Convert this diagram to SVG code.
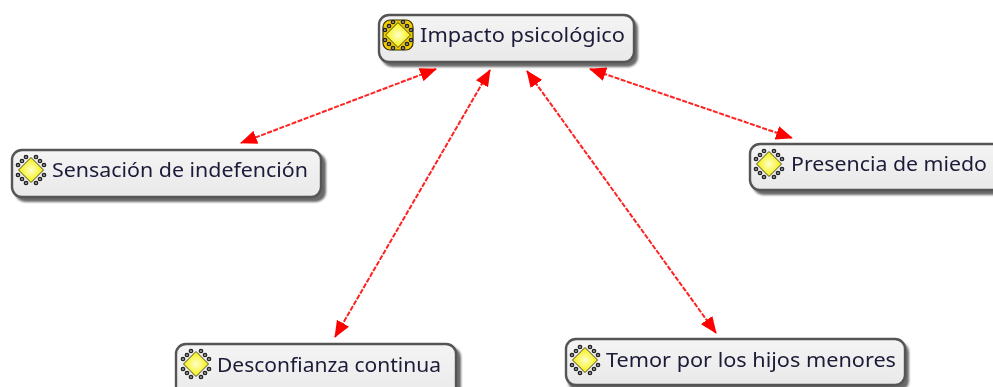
<svg xmlns="http://www.w3.org/2000/svg" width="993" height="387" viewBox="0 0 993 387">
<style>
.shadow{fill:#444;opacity:.8;filter:url(#soft)}
.box{fill:url(#fill);stroke:#555;stroke-width:2.4}
.lbl{font-family:"Noto Sans","Open Sans","DejaVu Sans",sans-serif;font-size:20.8px;fill:#1a1a38}
.conn{fill:none;stroke:#ff2020;stroke-width:2;stroke-dasharray:5 1.5;marker-start:url(#ah);marker-end:url(#ah)}
.dia{fill:url(#gem);stroke:#4a4a20;stroke-width:1}
.dot{fill:#ddd;stroke:#222;stroke-width:1.5}
</style>
<defs>
<filter id="soft" x="-5%" y="-20%" width="110%" height="140%"><feGaussianBlur stdDeviation="1.3"/></filter>
<filter id="img" filterUnits="userSpaceOnUse" x="0" y="0" width="993" height="387"><feGaussianBlur stdDeviation="0.4"/></filter>
<linearGradient id="fill" x1="0" y1="0" x2="0" y2="1"><stop offset="0" stop-color="#f4f4f4"/><stop offset="1" stop-color="#e9e9e9"/></linearGradient>
<radialGradient id="gem"><stop offset="0" stop-color="#ffffd0"/><stop offset="1" stop-color="#f5f000"/></radialGradient>
<marker id="ah" viewBox="0 0 17 14" refX="16" refY="7" markerWidth="17" markerHeight="14" markerUnits="userSpaceOnUse" orient="auto-start-reverse"><path d="M0 0L17 7L0 14Z" fill="#ff0000"/></marker>
<g id="gemicon">
<g class="dot"><circle cx="-9" cy="-9" r="1.6"/><circle cx="-5" cy="-13" r="1.6"/><circle cx="-13" cy="-5" r="1.6"/><circle cx="9" cy="-9" r="1.6"/><circle cx="5" cy="-13" r="1.6"/><circle cx="13" cy="-5" r="1.6"/><circle cx="-9" cy="9" r="1.6"/><circle cx="-5" cy="13" r="1.6"/><circle cx="-13" cy="5" r="1.6"/><circle cx="9" cy="9" r="1.6"/><circle cx="5" cy="13" r="1.6"/><circle cx="13" cy="5" r="1.6"/></g>
<path class="dia" d="M0-12.500L12.500 0L0 12.500L-12.500 0Z"/>
</g>
</defs>
<g filter="url(#img)">
<g id="connectors">
<path class="conn" d="M436 69L241 143"/>
<path class="conn" d="M490 70L335 337"/>
<path class="conn" d="M527 71L716 333"/>
<path class="conn" d="M590 69L792 138"/>
</g>
<g id="node-impacto">
<rect class="shadow" x="382" y="18" width="256" height="49" rx="10"/>
<rect class="box" x="379" y="15" width="255" height="47" rx="10"/>
<rect x="383" y="20" width="30" height="30" rx="7" fill="#f2cc00" stroke="#3a3000" stroke-width="1.2"/>
<use href="#gemicon" x="398" y="35"/>
<text class="lbl" x="420" y="42" textLength="205" lengthAdjust="spacingAndGlyphs">Impacto psicológico</text>
</g>
<g id="node-sensacion">
<rect class="shadow" x="15" y="153" width="311" height="49" rx="10"/>
<rect class="box" x="12" y="150" width="309" height="47" rx="10"/>
<use href="#gemicon" x="31" y="170"/>
<text class="lbl" x="52" y="177" textLength="256" lengthAdjust="spacingAndGlyphs">Sensación de indefención</text>
</g>
<g id="node-presencia">
<rect class="shadow" x="753" y="147" width="260" height="48" rx="10"/>
<rect class="box" x="750" y="144" width="260" height="46" rx="10"/>
<use href="#gemicon" x="769" y="164"/>
<text class="lbl" x="791" y="171" textLength="196" lengthAdjust="spacingAndGlyphs">Presencia de miedo</text>
</g>
<g id="node-desconfianza">
<rect class="shadow" x="178" y="347" width="283" height="60" rx="10"/>
<rect class="box" x="176" y="344" width="280" height="60" rx="10"/>
<use href="#gemicon" x="196" y="364"/>
<text class="lbl" x="217" y="372" textLength="224" lengthAdjust="spacingAndGlyphs">Desconfianza continua</text>
</g>
<g id="node-temor">
<rect class="shadow" x="568" y="342" width="341" height="49" rx="10"/>
<rect class="box" x="566" y="339" width="339" height="46" rx="10"/>
<use href="#gemicon" x="585" y="360"/>
<text class="lbl" x="606" y="367" textLength="290" lengthAdjust="spacingAndGlyphs">Temor por los hijos menores</text>
</g>
</g>
</svg>
